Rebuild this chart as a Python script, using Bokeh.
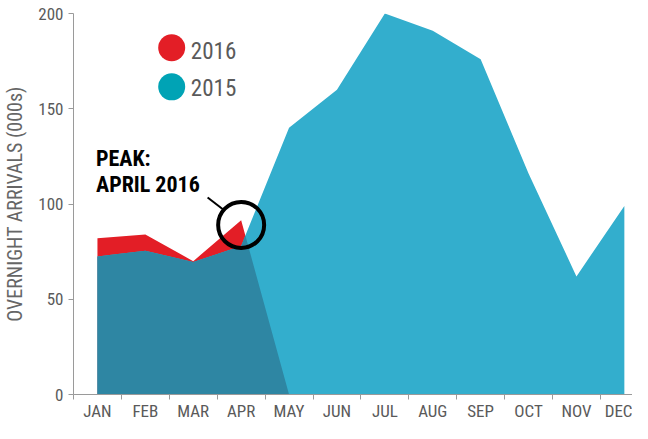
import numpy as np
from bokeh.plotting import figure
from bokeh.models import Range1d, FixedTicker
from bokeh.core.properties import value
from bokeh.embed import file_html
from bokeh.resources import INLINE

months = ["JAN", "FEB", "MAR", "APR", "MAY", "JUN", "JUL", "AUG", "SEP", "OCT", "NOV", "DEC"]
arrivals_2015 = [72.5, 75.5, 69.5, 78, 140, 160, 200, 191, 176, 116, 62, 99]
arrivals_2016 = [82, 84, 70, 91.5, 0]   # JAN-APR, then drops to 0 at MAY
y_ticks = [0, 50, 100, 150, 200]
legend_labels = ["2016", "2015"]

RED = "#e31e26"
BLUE = "#33aecd"
DARK = "#2e86a3"
LEG_BLUE = "#00a3b5"
GREY_TXT = "#5a5a5a"
AXIS = "#9a9a9a"
FONT = "Roboto Condensed"

x15 = np.arange(len(arrivals_2015), dtype=float)
x16 = np.arange(len(arrivals_2016), dtype=float)
y15 = np.array(arrivals_2015, dtype=float)
y16 = np.array(arrivals_2016, dtype=float)

# overlap region = pointwise minimum of both series, with crossing points inserted
n = len(y16)
ox, oy = [x16[0]], [min(y15[0], y16[0])]
for i in range(n - 1):
    d0 = y16[i] - y15[i]
    d1 = y16[i + 1] - y15[i + 1]
    if d0 * d1 < 0:
        t = d0 / (d0 - d1)
        ox.append(x16[i] + t)
        oy.append(y15[i] + t * (y15[i + 1] - y15[i]))
    ox.append(x16[i + 1])
    oy.append(min(y15[i + 1], y16[i + 1]))

p = figure(width=632, height=423, output_backend="svg", toolbar_location=None,
           x_range=Range1d(-0.5, 11.17), y_range=Range1d(0, 200),
           min_border_left=73, min_border_right=0, min_border_top=13, min_border_bottom=0)
p.outline_line_color = None
p.xgrid.visible = False
p.ygrid.visible = False

p.varea(x=x16, y1=0, y2=y16, fill_color=RED)
p.varea(x=x15, y1=0, y2=y15, fill_color=BLUE)
p.varea(x=ox, y1=0, y2=oy, fill_color=DARK)

# legend
p.scatter(x=[1.55, 1.55], y=[182, 161.5], size=27, color=[RED, LEG_BLUE], line_color=None)
p.text(x=[1.95, 1.95], y=[180.7, 161.3], text=legend_labels, text_font=value(FONT),
       text_font_size="23px", text_color=GREY_TXT, text_baseline="middle", text_align="left")

# annotation
p.text(x=[-0.03, -0.03], y=[124, 110], text=["PEAK:", "APRIL 2016"], text_font=value(FONT),
       text_font_size="22px", text_font_style="bold", text_color="black",
       text_baseline="alphabetic", text_align="left")
p.segment(x0=[2.3], y0=[103.4], x1=[2.652], y1=[96.6], line_color="black", line_width=2)
p.scatter(x=[3], y=[89], size=46, marker="circle", fill_color=None, line_color="black", line_width=4)

# x axis
xa = p.xaxis[0]
xa.ticker = FixedTicker(ticks=list(range(12)), minor_ticks=[i - 0.5 for i in range(13)])
xa.major_label_overrides = {i: m for i, m in enumerate(months)}
xa.major_tick_line_color = None
xa.major_tick_out = 0
xa.major_tick_in = 0
xa.minor_tick_line_color = AXIS
xa.minor_tick_out = 5
xa.minor_tick_in = 0
xa.axis_line_color = AXIS
xa.major_label_standoff = 1
xa.major_label_text_font = FONT
xa.major_label_text_font_size = "17px"
xa.major_label_text_color = GREY_TXT

# y axis
ya = p.yaxis[0]
ya.ticker = FixedTicker(ticks=y_ticks)
ya.axis_line_color = AXIS
ya.major_tick_line_color = AXIS
ya.major_tick_out = 5
ya.major_tick_in = 0
ya.minor_tick_line_color = None
ya.major_label_standoff = 5
ya.major_label_text_font = FONT
ya.major_label_text_font_size = "17px"
ya.major_label_text_color = GREY_TXT
ya.axis_label = "OVERNIGHT ARRIVALS (000s)"
ya.axis_label_text_font = FONT
ya.axis_label_text_font_size = "20px"
ya.axis_label_text_font_style = "normal"
ya.axis_label_text_color = "#666666"
ya.axis_label_standoff = 8

open("out.html", "w").write(file_html(p, INLINE))
